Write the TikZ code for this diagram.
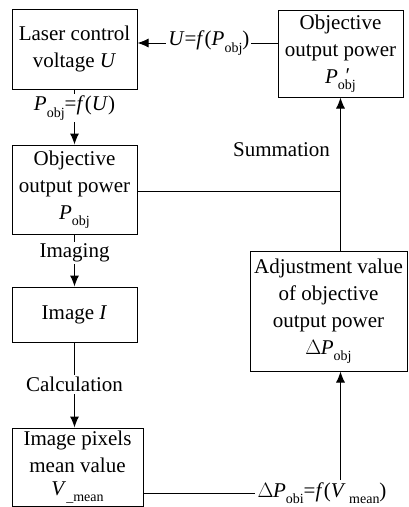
\documentclass[tikz,border=0pt]{standalone}
\usepackage{fontspec}
\setmainfont{Liberation Serif}
\usetikzlibrary{arrows.meta}
\newcommand\fs{\fontsize{21}{27}\selectfont}
\newcommand\sbs[1]{\raisebox{-0.3em}{\fontsize{14}{14}\selectfont #1}}
\newcommand\Pobj{\textit{P}\sbs{obj}}
\tikzset{
  box/.style={draw, line width=1pt, align=center, inner sep=0pt, font=\fs},
  lbl/.style={fill=white, inner sep=2pt, font=\fs},
  conn/.style={line width=1pt},
  arr/.style={line width=1pt, -{Latex[length=11pt,width=9pt]}}
}
\begin{document}
\begin{tikzpicture}[x=1pt,y=-1pt]
\useasboundingbox (0,0) rectangle (408,507);
\node[box, minimum width=125pt, minimum height=80pt] (A) at (74.5,49) {Laser control\\voltage \textit{U}};
\node[box, minimum width=125pt, minimum height=87pt] (B) at (340.5,53.5) {Objective\\output power\\\textit{P}\makebox[0pt][l]{\raisebox{0.05em}{\kern0.3em\textit{\char"2032}}}\sbs{obj}};
\node[box, minimum width=125pt, minimum height=89pt] (C) at (74.5,189.5) {Objective\\output power\\\Pobj};
\node[box, minimum width=157pt, minimum height=120pt] (D) at (328.5,311) {Adjustment value\\of objective\\output power\\$\Delta$\kern-0.5pt\Pobj};
\node[box, minimum width=125pt, minimum height=55pt] (E) at (74.5,314.5) {Image \textit{I}};
\node[box, minimum width=131pt, minimum height=78pt] (F) at (77.5,467) {Image pixels\\mean value\\[-4pt]\textit{V}\sbs{\_mean}};
\node[font=\fs] (sum) at (281.5,150) {Summation};
\node[lbl] (dp) at (322,493) {$\Delta$\kern-0.5pt\textit{P}\sbs{obi}=\textit{f}(\textit{V}\,\sbs{mean})};
% connectors
\draw[arr] (B.west |- 0,43) -- node[lbl, pos=0.49] {\textit{U}=\textit{f}(\Pobj)} (A.east |- 0,43);
\draw[arr] (A.south) -- node[lbl, pos=0.34] {\Pobj=\textit{f}(\textit{U})} (C.north);
\draw[arr] (C.south) -- node[lbl, pos=0.36] {Imaging} (E.north);
\draw[arr] (E.south) -- node[lbl, pos=0.49] {Calculation} (F.north -| E.south);
\draw[conn] (C.east |- 0,191) -- (B.south |- 0,191);
\draw[arr] (D.north -| B.south) -- (B.south);
\draw[conn] (F.east |- dp) -- (dp.west);
\draw[arr] (dp.north -| B.south) -- (D.south -| B.south);
\end{tikzpicture}
\end{document}
